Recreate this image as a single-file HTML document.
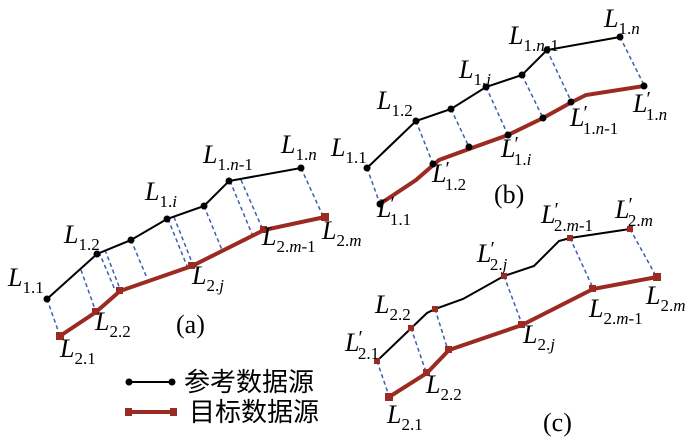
<!DOCTYPE html>
<html><head><meta charset="utf-8"><style>
html,body{margin:0;padding:0;background:#fff;}
svg{display:block;}
.L{font-family:"Liberation Serif",serif;font-style:italic;font-size:26px;fill:#000;}
.s{font-style:normal;font-size:17px;}
.pr{font-style:normal;font-size:20px;}
.i{font-style:italic;}
.p{font-family:"Liberation Serif",serif;font-size:26px;fill:#000;}
.k{stroke:#000;stroke-width:2;fill:none;}
.r{stroke:#9b2a22;stroke-width:4;fill:none;}
.d{stroke:#3a5fb0;stroke-width:1.5;stroke-dasharray:4 3;fill:none;}
.cn{font-family:"Liberation Sans","Noto Sans CJK SC",sans-serif;font-size:26px;fill:#000;}
</style></head><body>
<svg width="700" height="438" viewBox="0 0 700 438" xmlns="http://www.w3.org/2000/svg">
<!-- panel a -->
<g>
<path class="d" d="M47,299L60,336 M81,270L96,312 M99,252L115,290 M105,250L120,289 M131,240L147,278 M168,219L187,266 M174,217L193,265 M204,206L222,250 M230,181L252,234 M241,180L263,230 M301,168L322,214"/>
<polyline class="r" points="60,336 96,312 120,291 192,266 264,230 325,217"/>
<polyline class="k" points="47,299 97,254 131,240 167,219 204,206 229,181 301,168"/>
<g fill="#000"><circle cx="47" cy="299" r="3.5"/><circle cx="97" cy="254" r="3.5"/><circle cx="131" cy="240" r="3.5"/><circle cx="167" cy="219" r="3.5"/><circle cx="204" cy="206" r="3.5"/><circle cx="229" cy="181" r="3.5"/><circle cx="301" cy="168" r="3.5"/></g>
<g fill="#9b2a22"><rect x="56" y="332" width="8" height="8"/><rect x="92" y="308" width="7" height="7"/><rect x="116" y="287" width="7" height="7"/><rect x="188" y="262" width="7" height="7"/><rect x="260" y="226" width="7" height="7"/><rect x="321" y="213" width="8" height="8"/></g>
</g>
<!-- panel b -->
<g>
<path class="d" d="M367,168L380,204 M416,121L433,164 M451,109L469,147 M486,87L508,135 M522,75L543,118 M547,50L571,101 M620,37L643,83"/>
<polyline class="r" points="380,204 416,180 439,160 469,149 508,135 543,118 572,102 586,95 644,86"/>
<polyline class="k" points="367,168 416,121 451,109 486,87 522,75 547,50 620,37"/>
<g fill="#000"><circle cx="367" cy="168" r="3.5"/><circle cx="416" cy="121" r="3.5"/><circle cx="451" cy="109" r="3.5"/><circle cx="486" cy="87" r="3.5"/><circle cx="522" cy="75" r="3.5"/><circle cx="547" cy="50" r="3.5"/><circle cx="620" cy="37" r="3.5"/>
<circle cx="380" cy="204" r="3.5"/><circle cx="433" cy="164" r="3.5"/><circle cx="469" cy="147" r="3.5"/><circle cx="508" cy="135" r="3.5"/><circle cx="543" cy="118" r="3.5"/><circle cx="571" cy="102" r="3.5"/><circle cx="644" cy="86" r="3.5"/></g>
</g>
<!-- panel c -->
<g>
<path class="d" d="M377,361L389,396 M411,328L426,372 M435,309L447,347 M504,276L522,324 M570,238L593,288 M630,229L656,276"/>
<polyline class="r" points="389,397 427,373 449,350 522,325 593,289 657,277"/>
<polyline class="k" points="379,359 427,313 435,309 463,299 504,276 534,266 559,241 570,238 630,229"/>
<g fill="#9b2a22"><rect x="374" y="358" width="6" height="6"/><rect x="408" y="325" width="6" height="6"/><rect x="432" y="306" width="6" height="6"/><rect x="501" y="273" width="6" height="6"/><rect x="567" y="235" width="6" height="6"/><rect x="627" y="226" width="6" height="6"/>
<rect x="385" y="393" width="8" height="8"/><rect x="423" y="369" width="7" height="7"/><rect x="445" y="346" width="7" height="7"/><rect x="518" y="321" width="7" height="7"/><rect x="589" y="285" width="7" height="7"/><rect x="653" y="273" width="8" height="8"/></g>
</g>
<!-- labels a -->
<text class="L" x="8" y="286">L<tspan class="s" dy="7">1.1</tspan></text>
<text class="L" x="64" y="243">L<tspan class="s" dy="7">1.2</tspan></text>
<text class="L" x="145" y="200">L<tspan class="s" dy="7">1.<tspan class="i">i</tspan></tspan></text>
<text class="L" x="203" y="163">L<tspan class="s" dy="7">1.<tspan class="i">n</tspan>-1</tspan></text>
<text class="L" x="281" y="153">L<tspan class="s" dy="7">1.<tspan class="i">n</tspan></tspan></text>
<text class="L" x="322" y="239">L<tspan class="s" dy="7">2.<tspan class="i">m</tspan></tspan></text>
<text class="L" x="262" y="245">L<tspan class="s" dy="7">2.<tspan class="i">m</tspan>-1</tspan></text>
<text class="L" x="192" y="284">L<tspan class="s" dy="7">2.<tspan class="i">j</tspan></tspan></text>
<text class="L" x="95" y="330">L<tspan class="s" dy="7">2.2</tspan></text>
<text class="L" x="60" y="357">L<tspan class="s" dy="7">2.1</tspan></text>
<text class="p" x="176" y="333">(a)</text>
<!-- labels b -->
<text class="L" x="331" y="156">L<tspan class="s" dy="7">1.1</tspan></text>
<text class="L" x="377" y="109">L<tspan class="s" dy="7">1.2</tspan></text>
<text class="L" x="459" y="78">L<tspan class="s" dy="7">1.<tspan class="i">i</tspan></tspan></text>
<text class="L" x="509" y="44">L<tspan class="s" dy="7">1.<tspan class="i">n</tspan>-1</tspan></text>
<text class="L" x="604" y="27">L<tspan class="s" dy="7">1.<tspan class="i">n</tspan></tspan></text>
<text class="L" x="633" y="112">L<tspan class="pr" dx="-1" dy="-7">′</tspan><tspan class="s" dx="-5" dy="15">1.<tspan class="i">n</tspan></tspan></text>
<text class="L" x="570" y="126">L<tspan class="pr" dx="-1" dy="-7">′</tspan><tspan class="s" dx="-5" dy="15">1.<tspan class="i">n</tspan>-1</tspan></text>
<text class="L" x="501" y="157">L<tspan class="pr" dx="-1" dy="-7">′</tspan><tspan class="s" dx="-5" dy="15">1.<tspan class="i">i</tspan></tspan></text>
<text class="L" x="432" y="182">L<tspan class="pr" dx="-1" dy="-7">′</tspan><tspan class="s" dx="-5" dy="15">1.2</tspan></text>
<text class="L" x="377" y="217">L<tspan class="pr" dx="-1" dy="-7">′</tspan><tspan class="s" dx="-5" dy="15">1.1</tspan></text>
<text class="p" x="494" y="203">(b)</text>
<!-- labels c -->
<text class="L" x="345" y="351">L<tspan class="pr" dx="-1" dy="-7">′</tspan><tspan class="s" dx="-5" dy="15">2.1</tspan></text>
<text class="L" x="375" y="313">L<tspan class="s" dy="7">2.2</tspan></text>
<text class="L" x="477" y="262">L<tspan class="pr" dx="-1" dy="-7">′</tspan><tspan class="s" dx="-5" dy="15">2.<tspan class="i">j</tspan></tspan></text>
<text class="L" x="541" y="223">L<tspan class="pr" dx="-1" dy="-7">′</tspan><tspan class="s" dx="-5" dy="15">2.<tspan class="i">m</tspan>-1</tspan></text>
<text class="L" x="615" y="218">L<tspan class="pr" dx="-1" dy="-7">′</tspan><tspan class="s" dx="-5" dy="15">2.<tspan class="i">m</tspan></tspan></text>
<text class="L" x="646" y="304">L<tspan class="s" dy="7">2.<tspan class="i">m</tspan></tspan></text>
<text class="L" x="589" y="317">L<tspan class="s" dy="7">2.<tspan class="i">m</tspan>-1</tspan></text>
<text class="L" x="523" y="343">L<tspan class="s" dy="7">2.<tspan class="i">j</tspan></tspan></text>
<text class="L" x="426" y="393">L<tspan class="s" dy="7">2.2</tspan></text>
<text class="L" x="387" y="423">L<tspan class="s" dy="7">2.1</tspan></text>
<text class="p" x="543" y="431">(c)</text>
<!-- legend -->
<line x1="128" y1="382" x2="172" y2="382" stroke="#000" stroke-width="2"/>
<circle cx="129" cy="382" r="3.5"/><circle cx="172" cy="382" r="3.5"/>
<line x1="128" y1="412" x2="173" y2="412" stroke="#9b2a22" stroke-width="4"/>
<rect x="125" y="408" width="7" height="8" fill="#9b2a22"/><rect x="170" y="408" width="7" height="8" fill="#9b2a22"/>
<text class="cn" x="184" y="391">参考数据源</text>
<text class="cn" x="189" y="421">目标数据源</text>
</svg>
</body></html>
